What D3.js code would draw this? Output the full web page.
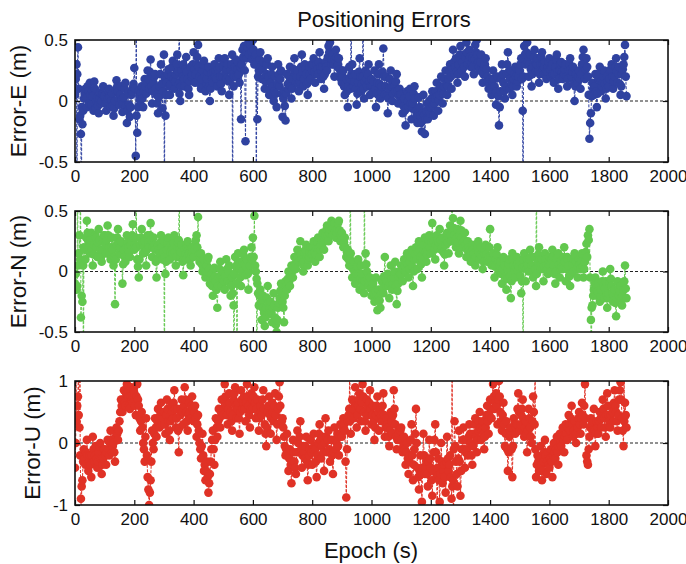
<!DOCTYPE html>
<html>
<head>
<meta charset="utf-8">
<script src="https://cdn.jsdelivr.net/npm/d3@7"></script>
<style>
  body { margin: 0; background: #fff; }
  svg { display: block; }
</style>
</head>
<body>
<svg class="errchart"></svg>
<script>
// POSITIONING ERRORS - three stacked panels (E, N, U)

// main samples every 5 epochs from epoch 0, in-between samples at +2.5
const EPOCH_STEP = 5;

const errorE = [
  0.05, 0.30, 0.44, -0.15, -0.27, -0.19, 0.02, 0.10, -0.05, 0.08, 0.15, -0.03, 0.04, 0.16, -0.06, 0.03, -0.10, 0.07, 0.00, 0.12,
  0.04, -0.08, 0.02, 0.10, -0.05, 0.06, -0.12, 0.00, 0.17, 0.08, -0.03, 0.12, -0.09, 0.03, 0.15, -0.18, 0.07, -0.13, 0.05, 0.11,
  0.27, -0.45, -0.26, 0.08, 0.00, 0.12, -0.05, 0.18, 0.06, 0.25, 0.10, 0.34, -0.02, 0.15, 0.22, 0.05, -0.10, 0.12, 0.30, -0.06,
  0.38, -0.12, 0.15, 0.26, 0.05, 0.20, 0.33, 0.10, 0.22, 0.38, 0.14, 0.00, 0.25, 0.30, 0.12, 0.36, 0.18, 0.05, 0.28, 0.22,
  0.40, 0.15, 0.30, 0.46, 0.20, 0.10, 0.25, 0.33, 0.08, 0.18, 0.28, 0.00, 0.22, 0.15, 0.30, 0.25, 0.12, 0.35, 0.20, 0.08,
  0.28, 0.35, 0.18, 0.30, 0.05, 0.25, 0.38, 0.12, 0.28, 0.20, 0.32, 0.15, -0.15, 0.42, 0.45, -0.33, 0.35, 0.48, 0.50, 0.40,
  0.50, 0.30, 0.38, -0.15, 0.25, 0.40, 0.18, 0.32, 0.10, 0.22, 0.35, 0.05, 0.15, 0.28, 0.00, 0.20, -0.05, 0.30, 0.12, 0.25,
  -0.13, 0.08, -0.16, 0.22, 0.10, 0.28, 0.02, 0.18, 0.35, 0.15, 0.25, 0.08, 0.20, 0.38, 0.12, 0.30, 0.22, 0.05, 0.28, 0.18,
  0.25, 0.35, 0.15, 0.30, 0.22, 0.40, 0.18, 0.28, 0.10, 0.32, 0.25, 0.45, 0.48, 0.30, 0.38, 0.20, 0.42, 0.28, 0.35, 0.22,
  0.15, 0.25, 0.05, 0.18, -0.05, 0.28, 0.10, 0.30, 0.12, 0.22, -0.03, 0.15, 0.35, 0.08, 0.20, 0.02, 0.25, 0.12, 0.30, 0.05,
  0.18, 0.08, 0.25, -0.05, 0.15, 0.30, 0.02, 0.12, 0.43, 0.05, 0.20, -0.10, 0.10, 0.25, 0.00, 0.15, 0.08, 0.22, -0.02, 0.10,
  0.05, -0.10, 0.02, -0.20, 0.08, -0.05, 0.10, -0.15, -0.02, 0.12, -0.08, -0.18, 0.03, -0.12, -0.25, 0.05, -0.27, -0.08, -0.15, 0.00,
  -0.05, 0.08, -0.12, 0.02, 0.15, -0.08, 0.05, 0.20, -0.02, 0.12, 0.25, 0.05, 0.18, 0.30, 0.10, 0.42, 0.22, 0.35, 0.15, 0.30,
  0.45, 0.25, 0.38, 0.20, 0.48, 0.30, 0.42, 0.28, 0.35, 0.22, 0.46, 0.50, 0.32, 0.25, 0.38, 0.15, 0.28, 0.35, 0.20, 0.10,
  0.18, 0.05, 0.25, 0.12, -0.03, 0.20, -0.20, 0.08, 0.30, 0.15, 0.02, 0.22, 0.40, 0.10, 0.25, 0.05, 0.18, 0.28, 0.12, 0.20,
  0.25, 0.35, -0.08, 0.45, 0.30, 0.48, 0.20, 0.38, 0.12, 0.28, 0.42, 0.25, 0.35, 0.15, 0.30, 0.40, 0.22, 0.32, 0.18, 0.28,
  0.35, 0.20, 0.30, 0.15, 0.28, 0.38, 0.10, 0.25, 0.32, 0.18, 0.22, 0.30, 0.12, 0.25, 0.35, 0.20, 0.28, 0.00, 0.22, 0.15,
  0.25, 0.10, 0.30, 0.42, 0.18, 0.35, 0.20, -0.31, -0.10, 0.15, 0.05, 0.22, -0.05, 0.18, 0.28, 0.08, 0.15, 0.25, 0.02, 0.20,
  0.12, 0.25, 0.30, 0.10, 0.20, 0.35, 0.15, 0.28, 0.05, 0.22, 0.30, 0.46, 0.04
];
const errorEMid = [
  0.18, 0.22, 0.10, -0.12, -0.05, -0.08, 0.06, 0.02, 0.12, -0.02, 0.05, 0.08, -0.08, 0.10, 0.00, -0.04, 0.02, -0.02, 0.06, 0.04,
  -0.02, 0.00, 0.08, 0.03, 0.01, -0.04, -0.06, 0.09, 0.12, 0.02, 0.05, 0.01, -0.02, 0.10, -0.04, -0.08, -0.03, -0.05, 0.08, 0.14,
  0.10, -0.12, -0.05, 0.04, 0.07, 0.02, 0.08, 0.12, 0.15, 0.18, 0.24, 0.12, 0.08, 0.20, 0.10, -0.02, 0.03, 0.22, 0.14, 0.08,
  0.20, 0.05, 0.22, 0.12, 0.14, 0.28, 0.18, 0.16, 0.30, 0.24, 0.06, 0.12, 0.20, 0.18, 0.26, 0.24, 0.10, 0.16, 0.20, 0.30,
  0.26, 0.22, 0.36, 0.28, 0.14, 0.18, 0.30, 0.20, 0.14, 0.24, 0.12, 0.10, 0.18, 0.24, 0.20, 0.18, 0.26, 0.28, 0.14, 0.20,
  0.32, 0.24, 0.26, 0.16, 0.18, 0.30, 0.22, 0.20, 0.34, 0.26, 0.22, 0.28, 0.30, 0.36, 0.25, 0.40, 0.44, 0.38, 0.46, 0.34,
  0.42, 0.36, 0.30, 0.20, 0.34, 0.28, 0.26, 0.18, 0.16, 0.30, 0.20, 0.10, 0.22, 0.12, 0.08, 0.06, 0.14, 0.22, 0.18, 0.06,
  0.02, -0.04, 0.06, 0.14, 0.20, 0.12, 0.10, 0.26, 0.22, 0.20, 0.14, 0.16, 0.28, 0.24, 0.18, 0.26, 0.14, 0.16, 0.22, 0.30,
  0.30, 0.24, 0.22, 0.26, 0.32, 0.28, 0.24, 0.20, 0.22, 0.28, 0.36, 0.40, 0.36, 0.34, 0.30, 0.34, 0.36, 0.30, 0.26, 0.18,
  0.20, 0.12, 0.14, 0.08, 0.12, 0.18, 0.22, 0.20, 0.16, 0.10, 0.06, 0.24, 0.20, 0.14, 0.10, 0.16, 0.18, 0.22, 0.16, 0.12,
  0.12, 0.16, 0.10, 0.06, 0.22, 0.14, 0.08, 0.24, 0.20, 0.12, 0.04, 0.02, 0.18, 0.12, 0.06, 0.12, 0.16, 0.08, 0.04, 0.06,
  -0.02, -0.04, -0.08, -0.06, 0.00, 0.04, -0.02, -0.06, 0.06, 0.02, -0.12, -0.06, -0.05, -0.18, -0.10, -0.12, -0.15, -0.02, -0.06, -0.10,
  0.02, -0.04, -0.02, 0.08, 0.04, 0.00, 0.12, 0.08, 0.06, 0.18, 0.14, 0.12, 0.24, 0.20, 0.26, 0.32, 0.28, 0.24, 0.22, 0.38,
  0.34, 0.32, 0.28, 0.36, 0.40, 0.34, 0.36, 0.30, 0.28, 0.34, 0.40, 0.38, 0.28, 0.32, 0.24, 0.22, 0.30, 0.26, 0.16, 0.14,
  0.10, 0.16, 0.18, 0.06, 0.08, 0.04, -0.05, 0.18, 0.22, 0.08, 0.12, 0.30, 0.24, 0.18, 0.14, 0.12, 0.22, 0.20, 0.16, 0.26,
  0.30, 0.18, 0.20, 0.38, 0.40, 0.32, 0.30, 0.26, 0.22, 0.36, 0.32, 0.30, 0.24, 0.22, 0.36, 0.30, 0.28, 0.24, 0.24, 0.32,
  0.26, 0.28, 0.22, 0.22, 0.34, 0.24, 0.18, 0.30, 0.24, 0.20, 0.26, 0.20, 0.18, 0.30, 0.26, 0.24, 0.14, 0.12, 0.18, 0.20,
  0.18, 0.22, 0.36, 0.30, 0.26, 0.28, 0.05, -0.18, 0.04, 0.10, 0.12, 0.08, 0.06, 0.22, 0.16, 0.12, 0.20, 0.14, 0.10, 0.16,
  0.18, 0.26, 0.20, 0.16, 0.28, 0.24, 0.22, 0.14, 0.12, 0.26, 0.36, 0.20
];

const errorN = [
  -0.10, -0.15, 0.05, 0.30, -0.38, -0.25, 0.20, 0.10, 0.42, 0.25, 0.15, 0.32, 0.05, 0.22, 0.28, 0.12, 0.35, 0.18, 0.08, 0.25,
  0.30, 0.15, 0.38, 0.20, 0.10, 0.28, 0.05, -0.27, 0.22, 0.35, 0.15, 0.25, -0.10, 0.18, 0.08, 0.30, 0.20, 0.12, 0.25, 0.39,
  0.18, 0.28, 0.10, -0.05, 0.22, 0.35, 0.15, 0.25, 0.05, 0.30, 0.20, 0.40, 0.12, 0.28, 0.18, -0.05, 0.22, 0.15, 0.30, 0.10,
  0.25, -0.02, 0.18, 0.28, 0.10, 0.22, 0.15, 0.30, 0.05, 0.20, 0.26, 0.12, 0.22, -0.03, 0.18, 0.10, 0.25, 0.15, 0.05, 0.20,
  0.12, 0.22, 0.30, 0.45, 0.08, 0.15, 0.00, 0.10, -0.05, 0.05, 0.12, -0.10, -0.02, -0.20, 0.03, -0.08, -0.30, -0.05, 0.08, -0.12,
  0.00, -0.15, 0.10, -0.08, 0.05, -0.20, -0.05, -0.28, 0.12, -0.10, 0.15, 0.02, -0.12, 0.08, 0.18, -0.03, 0.10, -0.15, 0.05, 0.20,
  0.28, 0.46, 0.00, -0.10, -0.28, -0.15, -0.40, -0.20, -0.45, -0.30, -0.12, -0.35, -0.25, -0.42, -0.18, -0.38, -0.50, -0.30, -0.22, -0.10,
  -0.25, -0.42, -0.08, -0.15, 0.00, -0.12, 0.05, -0.05, 0.12, 0.02, 0.18, 0.08, 0.25, 0.10, 0.00, 0.15, 0.22, 0.05, 0.12, 0.20,
  0.15, 0.25, 0.08, 0.20, 0.28, 0.12, 0.22, 0.32, 0.18, 0.30, 0.38, 0.25, 0.35, 0.42, 0.30, 0.40, 0.28, 0.35, 0.42, 0.25,
  0.32, 0.20, 0.28, 0.12, 0.18, 0.05, 0.15, -0.05, 0.08, -0.10, -0.02, 0.10, -0.15, 0.05, -0.08, -0.18, 0.15, 0.00, -0.12, -0.05,
  -0.20, -0.10, -0.25, -0.05, -0.32, -0.15, -0.30, -0.08, -0.18, 0.12, -0.12, -0.02, -0.22, 0.05, -0.15, -0.05, 0.08, -0.27, -0.10, 0.00,
  0.05, -0.08, 0.10, 0.00, 0.15, -0.05, 0.08, 0.18, -0.12, 0.10, 0.20, 0.02, 0.25, 0.12, -0.05, 0.18, 0.28, 0.08, 0.22, 0.30,
  0.15, 0.40, 0.25, 0.10, 0.30, 0.20, 0.35, 0.18, 0.28, 0.05, 0.22, 0.32, 0.15, 0.38, 0.25, 0.44, 0.30, 0.20, 0.35, 0.15,
  0.42, 0.28, 0.20, 0.32, 0.12, 0.25, 0.18, 0.08, 0.22, 0.15, 0.05, 0.18, 0.25, 0.10, 0.20, 0.02, 0.15, 0.22, 0.08, 0.12,
  0.35, 0.05, 0.15, -0.05, 0.10, 0.20, 0.00, 0.08, -0.10, 0.12, 0.05, -0.15, 0.02, 0.10, -0.22, 0.15, 0.05, -0.05, 0.12, 0.00,
  0.08, -0.18, 0.03, 0.15, -0.08, 0.10, 0.00, 0.18, 0.05, -0.05, 0.12, -0.12, 0.08, 0.20, 0.02, 0.10, -0.08, 0.15, 0.05, -0.02,
  0.12, 0.00, 0.18, 0.05, -0.10, 0.10, 0.15, -0.05, 0.08, 0.02, 0.20, -0.08, 0.12, 0.05, -0.12, 0.10, 0.00, 0.15, 0.08, -0.05,
  0.10, 0.02, 0.15, -0.05, 0.08, 0.23, 0.30, 0.35, -0.40, -0.28, -0.15, -0.05, -0.20, -0.10, -0.25, -0.15, 0.00, -0.22, -0.08, -0.30,
  -0.18, 0.02, -0.12, -0.25, -0.15, -0.37, -0.08, -0.20, -0.12, -0.28, -0.15, 0.05, -0.22
];
const errorNMid = [
  -0.02, -0.12, 0.15, 0.10, -0.20, 0.05, 0.18, 0.28, 0.32, 0.20, 0.26, 0.18, 0.14, 0.30, 0.20, 0.24, 0.26, 0.12, 0.18, 0.30,
  0.22, 0.26, 0.30, 0.14, 0.20, 0.18, 0.12, 0.10, 0.28, 0.24, 0.20, 0.14, 0.06, 0.12, 0.20, 0.24, 0.16, 0.22, 0.30, 0.28,
  0.22, 0.20, 0.04, 0.10, 0.28, 0.24, 0.20, 0.16, 0.18, 0.24, 0.30, 0.26, 0.20, 0.22, 0.08, 0.10, 0.18, 0.24, 0.20, 0.16,
  0.12, 0.08, 0.24, 0.20, 0.16, 0.18, 0.24, 0.16, 0.12, 0.24, 0.18, 0.16, 0.08, 0.10, 0.14, 0.20, 0.18, 0.10, 0.14, 0.16,
  0.18, 0.26, 0.20, 0.14, 0.12, 0.06, 0.04, 0.02, 0.00, 0.10, 0.02, -0.06, -0.12, -0.06, -0.04, -0.15, -0.12, 0.02, -0.04, -0.06,
  -0.08, -0.04, 0.02, 0.00, -0.10, -0.12, -0.18, -0.02, 0.04, 0.06, 0.08, -0.05, 0.00, 0.14, 0.06, 0.04, -0.02, 0.00, 0.12, 0.10,
  0.12, 0.05, -0.06, -0.18, -0.20, -0.25, -0.30, -0.34, -0.38, -0.22, -0.26, -0.30, -0.34, -0.30, -0.28, -0.44, -0.40, -0.26, -0.16, -0.18,
  -0.30, -0.20, -0.12, -0.06, -0.08, -0.02, 0.00, 0.04, 0.06, 0.10, 0.12, 0.16, 0.14, 0.06, 0.08, 0.18, 0.12, 0.10, 0.16, 0.14,
  0.20, 0.16, 0.14, 0.24, 0.20, 0.18, 0.26, 0.24, 0.26, 0.34, 0.30, 0.32, 0.38, 0.36, 0.36, 0.34, 0.32, 0.40, 0.34, 0.30,
  0.26, 0.24, 0.20, 0.16, 0.10, 0.10, 0.04, 0.02, 0.00, -0.04, 0.04, -0.02, -0.06, -0.02, -0.12, -0.08, 0.06, -0.06, -0.08, -0.14,
  -0.14, -0.18, -0.16, -0.20, -0.22, -0.24, -0.18, -0.14, -0.04, -0.06, -0.08, -0.12, -0.10, -0.06, -0.10, 0.00, -0.12, -0.16, -0.04, -0.02,
  -0.02, 0.02, 0.04, 0.08, 0.06, 0.02, 0.12, 0.04, 0.00, 0.14, 0.10, 0.16, 0.18, 0.06, 0.10, 0.22, 0.16, 0.14, 0.26, 0.20,
  0.24, 0.28, 0.18, 0.22, 0.26, 0.24, 0.26, 0.20, 0.16, 0.14, 0.26, 0.24, 0.28, 0.30, 0.34, 0.36, 0.26, 0.28, 0.24, 0.30,
  0.34, 0.24, 0.26, 0.22, 0.18, 0.20, 0.14, 0.16, 0.18, 0.10, 0.12, 0.20, 0.16, 0.14, 0.12, 0.08, 0.18, 0.14, 0.10, 0.20,
  0.12, 0.10, 0.06, 0.04, 0.14, 0.08, 0.05, -0.02, 0.02, 0.08, -0.04, -0.06, 0.06, -0.04, -0.08, 0.10, 0.00, 0.04, 0.06, 0.04,
  -0.04, -0.08, 0.10, 0.04, 0.02, 0.06, 0.10, 0.12, 0.00, 0.04, 0.02, -0.02, 0.14, 0.10, 0.06, 0.02, 0.04, 0.10, 0.02, 0.06,
  0.06, 0.10, 0.12, -0.02, 0.00, 0.14, 0.06, 0.02, 0.04, 0.12, 0.08, 0.02, 0.10, -0.04, -0.02, 0.06, 0.10, 0.12, 0.02, 0.04,
  0.06, 0.08, 0.04, 0.02, 0.16, 0.12, 0.26, -0.05, -0.30, -0.20, -0.10, -0.14, -0.16, -0.18, -0.20, -0.08, -0.12, -0.14, -0.20, -0.22,
  -0.10, -0.06, -0.18, -0.20, -0.26, -0.22, -0.14, -0.16, -0.22, -0.20, -0.08, -0.14
];

const errorU = [
  -0.40, 0.35, 0.75, 0.25, -0.90, -0.60, -0.10, -0.35, 0.05, -0.45, -0.20, -0.55, 0.10, -0.30, -0.05, -0.40, -0.15, 0.00, -0.50, -0.25,
  -0.10, -0.35, 0.05, -0.20, 0.20, -0.15, 0.00, -0.30, 0.25, 0.05, 0.35, 0.70, 0.50, 0.85, 0.60, 0.95, 0.75, 0.55, 0.90, 0.65,
  0.80, 0.45, 0.95, 0.60, 0.20, 0.50, 0.00, -0.30, 0.40, -0.55, -1.00, -0.60, 0.20, -0.10, 0.40, 0.10, 0.55, 0.25, 0.65, 0.30,
  0.50, 0.15, 0.70, 0.35, 0.05, 0.60, 0.40, 0.85, 0.25, 0.55, -0.15, 0.45, 0.70, 0.30, 0.90, 0.50, 0.20, 0.65, 0.40, 0.75,
  0.35, 0.60, 0.10, 0.45, 0.00, -0.25, 0.15, -0.45, -0.60, -0.30, -0.80, -0.50, -0.10, 0.20, -0.35, 0.40, 0.10, 0.55, 0.25, 0.70,
  0.45, 0.95, 0.60, 0.30, 0.80, 0.50, 0.20, 0.70, 0.90, 0.40, 0.65, 0.15, 0.85, 0.55, 0.75, 0.35, 0.95, 0.60, 0.25, 0.80,
  0.55, 0.90, 0.40, 0.70, 0.20, 0.60, 0.45, 0.85, 0.30, -0.05, 0.50, 0.75, 0.15, 0.65, 0.35, 0.80, 0.05, 0.55, 0.98, 0.30,
  0.40, 0.10, -0.20, 0.15, -0.45, -0.10, -0.65, 0.05, -0.30, -0.50, 0.20, -0.15, 0.35, -0.40, -0.05, -0.25, 0.10, -0.60, -0.20, 0.05,
  -0.35, 0.15, -0.10, -0.55, 0.00, 0.30, -0.25, 0.10, -0.45, 0.40, -0.15, 0.20, -0.30, 0.05, -0.50, 0.25, -0.10, 0.15, -0.20, 0.30,
  0.10, 0.40, 0.20, -0.88, 0.35, 0.55, 0.15, 0.70, 0.40, 0.90, 0.25, 0.60, 0.80, 0.35, 0.95, 0.50, 0.20, 0.70, 0.45, 0.85,
  0.30, 0.60, 0.05, 0.45, 0.75, 0.20, 0.55, 0.35, 0.80, 0.10, 0.40, 0.25, -0.05, 0.50, 0.15, 0.85, 0.30, -0.10, 0.20, 0.05,
  0.25, -0.15, 0.10, -0.35, 0.00, -0.50, -0.20, 0.30, -0.60, -0.10, 0.55, -0.40, -0.75, -0.20, -0.95, 0.15, -0.50, -0.30, -0.70, 0.05,
  -0.40, -0.85, -0.15, 0.30, -0.55, -0.25, -0.95, 0.00, -0.65, -0.35, -0.80, 0.10, -0.45, -0.20, -0.90, -0.60, 0.35, -0.30, -0.70, 0.20,
  -0.85, -0.10, 0.25, -0.40, 0.05, -0.20, 0.30, 0.00, -0.35, 0.15, 0.40, -0.15, 0.20, 0.50, 0.05, 0.35, -0.10, 0.25, 0.60, 0.15,
  0.70, 0.40, 0.95, 0.55, 0.80, 0.30, 1.00, 0.50, 0.20, 0.65, -0.05, 0.35, -0.45, 0.10, 0.25, -0.55, 0.40, 0.15, 0.30, 0.80,
  0.20, 0.45, 0.70, 0.10, 0.35, -0.15, 0.55, 0.25, 0.00, 0.75, 0.30, -0.55, -0.20, -0.45, -0.05, -0.60, -0.30, 0.05, -0.50, -0.15,
  -0.40, -0.10, -0.55, 0.00, -0.25, 0.10, -0.35, 0.15, -0.05, 0.25, -0.15, 0.30, 0.05, 0.45, 0.20, 0.60, 0.10, 0.35, 0.00, 0.25,
  0.50, 0.15, 0.65, 0.30, 0.95, -0.20, -0.35, 0.10, 0.40, 0.20, 0.55, -0.05, 0.35, 0.15, 0.50, 0.25, 0.70, 0.40, 0.10, 0.80,
  0.45, 0.25, 0.60, 0.35, 0.85, 0.50, 0.20, 0.70, 0.98, 0.40, -0.05, 0.65, 0.25
];
const errorUMid = [
  0.00, 0.60, 0.45, -0.20, -0.70, -0.30, -0.25, -0.15, -0.20, -0.30, -0.35, -0.20, -0.10, -0.20, -0.25, -0.30, -0.05, -0.25, -0.35, -0.10,
  -0.20, -0.15, -0.10, 0.00, 0.05, -0.05, -0.15, 0.10, 0.15, 0.20, 0.50, 0.60, 0.70, 0.65, 0.80, 0.80, 0.60, 0.75, 0.70, 0.85,
  0.60, 0.75, 0.70, 0.40, 0.35, 0.25, -0.10, 0.10, -0.20, -0.75, -0.80, -0.30, 0.00, 0.15, 0.25, 0.35, 0.40, 0.45, 0.50, 0.40,
  0.30, 0.45, 0.55, 0.20, 0.35, 0.50, 0.65, 0.55, 0.40, 0.20, 0.25, 0.55, 0.50, 0.60, 0.70, 0.35, 0.45, 0.50, 0.60, 0.55,
  0.50, 0.40, 0.30, 0.20, -0.10, -0.05, -0.20, -0.35, -0.45, -0.55, -0.65, -0.30, 0.05, -0.10, 0.05, 0.25, 0.35, 0.40, 0.50, 0.55,
  0.70, 0.75, 0.45, 0.55, 0.65, 0.35, 0.45, 0.80, 0.60, 0.55, 0.40, 0.50, 0.70, 0.65, 0.55, 0.65, 0.75, 0.45, 0.55, 0.70,
  0.75, 0.65, 0.55, 0.45, 0.40, 0.50, 0.70, 0.55, 0.15, 0.25, 0.60, 0.45, 0.40, 0.50, 0.60, 0.45, 0.30, 0.75, 0.60, 0.35,
  0.25, -0.05, -0.10, -0.15, -0.25, -0.35, -0.30, -0.15, -0.40, -0.15, 0.00, 0.10, -0.10, -0.20, -0.15, -0.05, -0.30, -0.35, -0.10, -0.15,
  -0.10, -0.05, -0.30, -0.20, 0.15, 0.05, -0.05, -0.15, 0.00, 0.10, 0.05, -0.10, -0.15, -0.20, -0.15, 0.05, 0.00, -0.05, 0.10, 0.15,
  0.25, 0.30, -0.30, -0.10, 0.45, 0.35, 0.45, 0.55, 0.65, 0.60, 0.45, 0.70, 0.55, 0.65, 0.75, 0.35, 0.45, 0.60, 0.65, 0.55,
  0.45, 0.35, 0.25, 0.60, 0.50, 0.40, 0.45, 0.60, 0.45, 0.25, 0.30, 0.10, 0.20, 0.35, 0.45, 0.55, 0.10, 0.05, 0.15, 0.20,
  0.05, -0.05, -0.10, -0.15, -0.25, -0.30, 0.05, -0.20, -0.35, 0.15, 0.00, -0.55, -0.45, -0.50, -0.40, -0.20, -0.40, -0.50, -0.30, -0.25,
  -0.60, -0.45, 0.05, -0.15, -0.40, -0.60, -0.50, -0.30, -0.45, -0.55, -0.30, -0.25, -0.35, -0.55, -0.70, -0.10, -0.05, -0.50, -0.25, -0.30,
  -0.45, 0.05, -0.10, -0.15, -0.10, 0.10, 0.15, -0.20, -0.05, 0.30, 0.10, 0.05, 0.35, 0.25, 0.20, 0.15, 0.10, 0.45, 0.35, 0.45,
  0.55, 0.70, 0.75, 0.65, 0.60, 0.70, 0.75, 0.35, 0.45, 0.30, 0.15, -0.10, -0.15, 0.20, -0.10, -0.05, 0.30, 0.25, 0.55, 0.50,
  0.30, 0.55, 0.40, 0.25, 0.15, 0.20, 0.40, 0.10, 0.35, 0.50, -0.10, -0.35, -0.30, -0.25, -0.35, -0.45, -0.15, -0.20, -0.30, -0.35,
  -0.25, -0.30, -0.20, -0.15, -0.10, -0.15, -0.05, 0.00, 0.10, 0.05, 0.10, 0.15, 0.25, 0.30, 0.40, 0.30, 0.20, 0.15, 0.15, 0.40,
  0.30, 0.40, 0.45, 0.60, 0.40, -0.30, -0.10, 0.25, 0.30, 0.35, 0.20, 0.15, 0.25, 0.35, 0.40, 0.45, 0.55, 0.25, 0.45, 0.60,
  0.35, 0.45, 0.50, 0.65, 0.60, 0.35, 0.45, 0.85, 0.70, 0.20, 0.35, 0.45
];

// outlier epochs that shoot past the axis limits: [epoch, value]
const spikesE = [[7, -1.5], [22, -1.5], [207, 1.5], [302, -1.5], [352, 1.5], [532, -1.5],
                 [612, -1.5], [931, 1.5], [972, 1.5], [1511, -1.5]];
const spikesN = [[8, 1.5], [18, 1.5], [28, -1.5], [207, 1.5], [302, -1.5], [352, 1.5],
                 [537, -1.5], [547, -1.5], [613, -1.5], [928, 1.5], [976, 1.5], [1272, 1.5],
                 [1511, -1.5], [1556, 1.5], [1742, -1.5]];
const spikesU = [[3, 1.5], [12, 1.5], [17, 1.5], [22, -1.5], [927, 1.5], [1222, -1.5],
                 [1272, 1.5], [1277, -1.5], [1552, 1.5], [1852, 1.5]];

const xTicks = [0, 200, 400, 600, 800, 1000, 1200, 1400, 1600, 1800, 2000];
const yTicksEN = [-0.5, 0, 0.5];
const yTicksU = [-1, 0, 1];

const panelLabels = ["Error-E (m)", "Error-N (m)", "Error-U (m)"];

// layout
let w = 686, h = 564;
let left = 75, right = 668;
let panels = [
  {values: errorE, mid: errorEMid, spikes: spikesE, ticks: yTicksEN, label: panelLabels[0],
   color: "#2f42a0", top: 40, bottom: 162, labelX: 26},
  {values: errorN, mid: errorNMid, spikes: spikesN, ticks: yTicksEN, label: panelLabels[1],
   color: "#62c84e", top: 211, bottom: 332, labelX: 26},
  {values: errorU, mid: errorUMid, spikes: spikesU, ticks: yTicksU, label: panelLabels[2],
   color: "#e03226", top: 381, bottom: 505, labelX: 40}
];

let font = "'Liberation Sans', Arial, Helvetica, sans-serif";

let svg = d3.select("svg.errchart")
  .attr("width", w)
  .attr("height", h);

let x = d3.scaleLinear().domain([0, 2000]).range([left, right]);

panels.forEach((p, i) => {
  let yMax = p.ticks[p.ticks.length - 1];
  let y = d3.scaleLinear()
    .domain([p.ticks[0], yMax])
    .range([p.bottom, p.top]);

  // merge regular samples, in-between samples and the outlier spikes
  let pts = p.values.map((v, k) => ({t: k * EPOCH_STEP, v: v}))
    .concat(p.mid.map((v, k) => ({t: k * EPOCH_STEP + EPOCH_STEP / 2, v: v})))
    .concat(p.spikes.map(s => ({t: s[0], v: s[1]})))
    .sort((a, b) => a.t - b.t);

  let g = svg.append("g").attr("class", "panel" + i);

  g.append("clipPath").attr("id", "clip" + i)
    .append("rect")
    .attr("x", left).attr("y", p.top)
    .attr("width", right - left).attr("height", p.bottom - p.top);

  // zero reference line
  g.append("line")
    .attr("x1", left).attr("x2", right)
    .attr("y1", y(0)).attr("y2", y(0))
    .attr("stroke", "#222")
    .attr("stroke-width", 1)
    .attr("stroke-dasharray", "3,2");

  let plot = g.append("g").attr("clip-path", "url(#clip" + i + ")");

  let line = d3.line().x(d => x(d.t)).y(d => y(d.v));
  plot.append("path")
    .datum(pts)
    .attr("d", line)
    .attr("fill", "none")
    .attr("stroke", p.color)
    .attr("stroke-width", 1)
    .attr("stroke-dasharray", "3,1.5");

  plot.selectAll("circle")
    .data(pts.filter(d => Math.abs(d.v) <= 1.01 * yMax))
    .enter()
    .append("circle")
    .attr("cx", d => x(d.t))
    .attr("cy", d => y(d.v))
    .attr("r", 4.3)
    .attr("fill", p.color);

  // axes: ticks point inward on all four sides
  let fmt = d => String(d);
  g.append("g")
    .attr("transform", "translate(" + left + ",0)")
    .call(d3.axisLeft(y).tickValues(p.ticks).tickFormat(fmt).tickSizeInner(-5).tickSizeOuter(0).tickPadding(7))
    .call(a => a.select(".domain").remove());
  g.append("g")
    .attr("transform", "translate(" + right + ",0)")
    .call(d3.axisRight(y).tickValues(p.ticks).tickFormat("").tickSizeInner(-5).tickSizeOuter(0))
    .call(a => a.select(".domain").remove());
  g.append("g")
    .attr("transform", "translate(0," + p.bottom + ")")
    .call(d3.axisBottom(x).tickValues(xTicks).tickFormat(fmt).tickSizeInner(-5).tickSizeOuter(0).tickPadding(8))
    .call(a => a.select(".domain").remove());
  g.append("g")
    .attr("transform", "translate(0," + p.top + ")")
    .call(d3.axisTop(x).tickValues(xTicks).tickFormat("").tickSizeInner(-5).tickSizeOuter(0))
    .call(a => a.select(".domain").remove());

  g.selectAll(".tick line").attr("stroke", "#111").attr("stroke-width", 1.2);
  g.selectAll(".tick text")
    .attr("fill", "#111")
    .style("font", "17px " + font);

  // frame
  g.append("rect")
    .attr("x", left).attr("y", p.top)
    .attr("width", right - left).attr("height", p.bottom - p.top)
    .attr("fill", "none")
    .attr("stroke", "#111")
    .attr("stroke-width", 1.6);

  // y label
  g.append("text")
    .attr("transform", "translate(" + p.labelX + "," + ((p.top + p.bottom) / 2) + ") rotate(-90)")
    .attr("text-anchor", "middle")
    .style("font", "22.5px " + font)
    .attr("fill", "#111")
    .text(p.label);
});

// title
svg.append("text")
  .attr("x", 384).attr("y", 27)
  .attr("text-anchor", "middle")
  .style("font", "22px " + font)
  .attr("fill", "#111")
  .text("Positioning Errors");

// x label
svg.append("text")
  .attr("x", 371).attr("y", 558)
  .attr("text-anchor", "middle")
  .style("font", "22px " + font)
  .attr("fill", "#111")
  .text("Epoch (s)");
</script>
</body>
</html>
